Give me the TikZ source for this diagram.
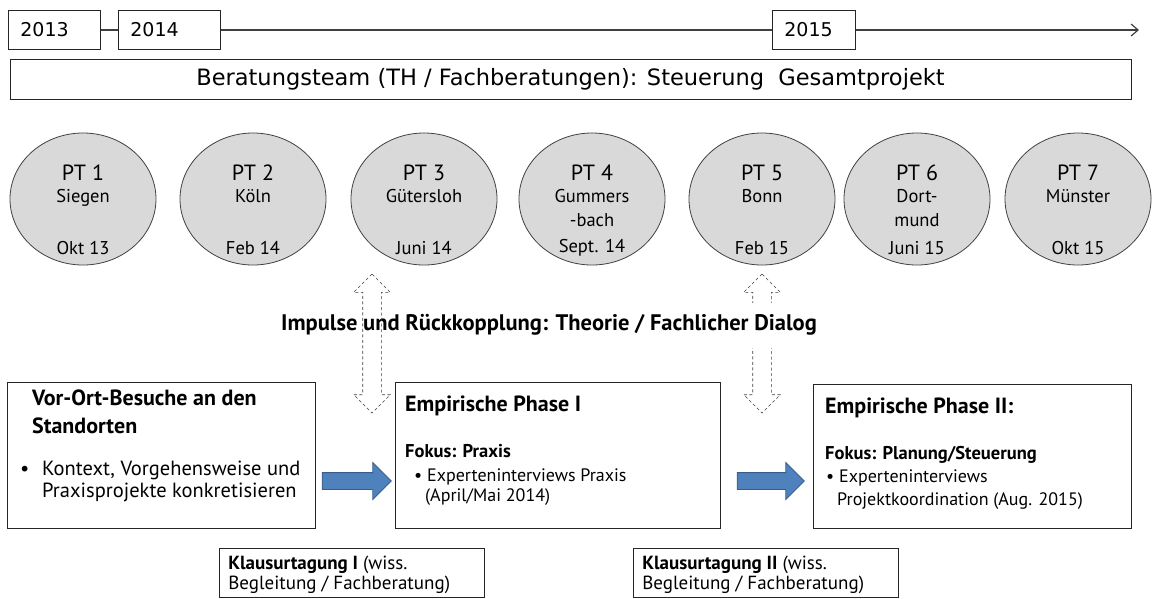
\documentclass[tikz,border=0pt]{standalone}
\usepackage{fontspec}
\setmainfont{PT Sans}
\newfontfamily\headfont{DejaVu Sans}
\usetikzlibrary{arrows.meta,shapes.geometric,shapes.arrows,positioning}
\definecolor{ptfill}{HTML}{D9D9D9}
\definecolor{ptline}{HTML}{404040}
\definecolor{flowblue}{HTML}{4F81BD}
\definecolor{flowedge}{HTML}{385D8A}
\newcommand{\fsz}[2]{\fontsize{#1}{#2}\selectfont}

\begin{document}
\begin{tikzpicture}[x=1pt,y=-1pt,
        every node/.style={inner sep=0pt},
        yearbox/.style={draw=black!85, line width=0.8pt, text width=#1, inner xsep=12pt,
            minimum height=39pt, align=left, anchor=west, font=\headfont\fsz{19}{22}},
        ptcircle/.style={ellipse, draw=ptline, line width=0.8pt, fill=ptfill,
            minimum width=146pt, minimum height=132pt},
        phasebox/.style={draw=black!85, line width=0.8pt},
        flowarrow/.style={single arrow, draw=flowedge, fill=flowblue, line width=0.8pt,
            inner sep=8pt, single arrow head extend=10pt, minimum height=#1},
        feedback/.style={double arrow, draw=ptline, dash pattern=on 3pt off 2.5pt, line width=0.6pt,
            rotate=90, inner sep=9pt, double arrow head extend=9pt, minimum height=139pt},
        line/.style={anchor=base west, font=\fsz{18}{21}}
    ]
	\useasboundingbox (0,0) rectangle (1153,598);

	\node[yearbox=68pt] (y13) at (8,30) {2013};
	\node[yearbox=78pt] (y14) at (118,30) {2014};
	\node[yearbox=59pt] (y15) at (772,30) {2015};
	\coordinate (tend) at (1139,30);
	\draw[ptline, line width=1.2pt] (y13) -- (y14);
	\draw[ptline, line width=1.2pt] (y14) -- (y15);
	\draw[ptline, line width=1.2pt, -{Straight Barb[length=7pt,width=12pt]}] (y15) -- (tend);

	\node[phasebox, minimum width=1121pt, minimum height=40pt, font=\headfont\fsz{22.5}{26}]
		(team) at (570.5,79) {Beratungsteam (TH / Fachberatungen): Steuerung\ \ Gesamtprojekt};

	\foreach \x/\n/\city/\date in {83/1/Siegen/Okt 13, 253/2/Köln/Feb 14, 424/3/Gütersloh/Juni 14,
		592/4/{Gummers\\-bach}/Sept. 14, 762/5/Bonn/Feb 15, 917/6/{Dort-\\mund}/Juni 15, 1078/7/Münster/Okt 15}
		{
		   \node[ptcircle] (pt\n) at (\x,199) {};
		   \node[font=\fsz{22}{24}] (pt\n-no) at (\x,173) {PT \n};
		   \node[font=\fsz{18.5}{24}, align=center, anchor=north] (pt\n-city) at (\x,189) {\city};
		   \node[font=\fsz{18.5}{20}] (pt\n-date) at (\x,248) {\date};
		};

	\node[feedback] (fb2) at (762,343.5) {};
	\node[fill=white, inner xsep=3pt, inner ysep=12pt, font=\fsz{22.5}{26}\bfseries]
		(impulse) at (549,325) {Impulse und Rückkopplung: Theorie / Fachlicher Dialog};
	\node[feedback] (fb1) at (372,343.5) {};

	\node[phasebox, minimum width=308pt, minimum height=146pt] (visit) at (161,455) {};
	\node[phasebox, minimum width=325pt, minimum height=146pt] (phase1) at (557.5,455) {};
	\node[phasebox, minimum width=318pt, minimum height=144pt] (phase2) at (972,456) {};
	\node[flowarrow=69pt] (flow1) at (352.5,481) {};
	\node[flowarrow=67pt] (flow2) at (766.5,481) {};

	\foreach \y/\txt [count=\k] in {405/Vor-Ort-Besuche an den, 433/Standorten}
		{
		   \node[line, font=\fsz{22}{26}\bfseries] (visit-t\k) at (32,\y) {\txt};
		};
	\node[line, font=\fsz{20.5}{24}] (visit-dot) at (20,475) {•};
	\foreach \y/\txt [count=\k] in {475/{Kontext, Vorgehensweise und}, 497/Praxisprojekte konkretisieren}
		{
		   \node[line, font=\fsz{20.5}{24}] (visit-b\k) at (42,\y) {\txt};
		};

	\node[line, font=\fsz{22}{26}\bfseries] (phase1-title) at (405,411) {Empirische Phase I};
	\node[line, font=\fsz{18.5}{22}\bfseries] (phase1-focus) at (405,457) {Fokus: Praxis};
	\node[line] (phase1-b1) at (414,481) {• Experteninterviews Praxis};
	\node[line] (phase1-b2) at (425,501) {(April/Mai 2014)};

	\node[line, font=\fsz{22}{26}\bfseries] (phase2-title) at (825,413) {Empirische Phase II:};
	\node[line, font=\fsz{18.5}{22}\bfseries] (phase2-focus) at (825,459) {Fokus: Planung/Steuerung};
	\node[line] (phase2-b1) at (826,482) {• Experteninterviews};
	\node[line] (phase2-b2) at (837,505) {Projektkoordination (Aug. 2015)};

	\foreach \x/\n/\num in {352/1/I, 766/2/II}
		{
		   \node[phasebox, minimum width=265pt, minimum height=49pt] (retreat\n) at (\x,572.5) {};
		   \node[line, font=\fsz{19}{21}] (retreat\n-l1) at ([xshift=9pt]retreat\n.west |- 0,569) {\textbf{Klausurtagung \num} (wiss.};
		   \node[line, font=\fsz{19}{21}] (retreat\n-l2) at ([xshift=9pt]retreat\n.west |- 0,589) {Begleitung / Fachberatung)};
		};
\end{tikzpicture}
\end{document}
